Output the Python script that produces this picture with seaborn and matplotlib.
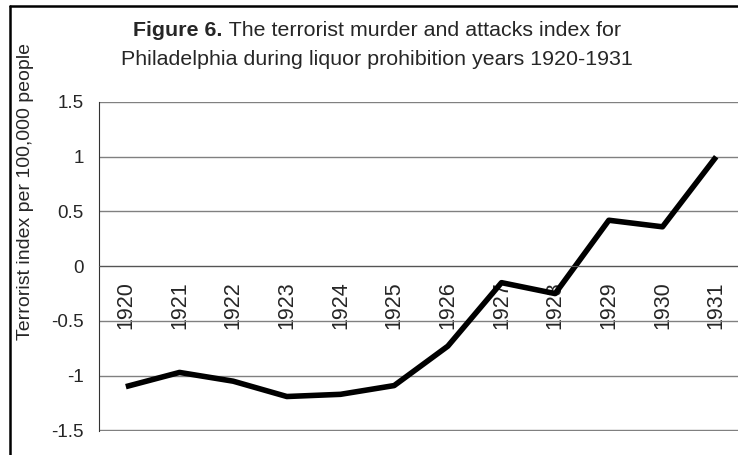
import matplotlib
matplotlib.use("Agg")
import matplotlib.pyplot as plt
from matplotlib.lines import Line2D
import seaborn as sns
import pandas as pd

years = [1920, 1921, 1922, 1923, 1924, 1925, 1926, 1927, 1928, 1929, 1930, 1931]
index_values = [-1.10, -0.97, -1.05, -1.19, -1.17, -1.09, -0.73, -0.15, -0.25, 0.42, 0.36, 1.00]
y_ticks = [-1.5, -1.0, -0.5, 0.0, 0.5, 1.0, 1.5]
y_tick_labels = ["-1.5", "-1", "-0.5", "0", "0.5", "1", "1.5"]

df = pd.DataFrame({"year": years, "index": index_values})

sns.set_style("white")
plt.rcParams["font.family"] = ["Liberation Sans", "DejaVu Sans"]

fig = plt.figure(figsize=(7.38, 4.55), dpi=100)
W, H = 738, 455
ax = fig.add_axes([99 / W, (H - 431) / H, 644 / W, 329 / H])

sns.lineplot(data=df, x="year", y="index", color="black", linewidth=4.0, ax=ax,
             solid_joinstyle="round", solid_capstyle="butt")

ax.set_xlim(years[0] - 0.5, years[-1] + 0.5)
ax.set_ylim(-1.505, 1.5)
ax.set_yticks(y_ticks)
ax.set_yticklabels(y_tick_labels, fontsize=13.5)
ax.grid(axis="y", color="#808080", linewidth=1.0)
ax.set_axisbelow(True)

# x axis sits at zero, ticks between categories
ax.spines["bottom"].set_position(("data", 0))
ax.spines["bottom"].set_color("#555555")
ax.spines["left"].set_color("#333333")
ax.spines["top"].set_visible(False)
ax.spines["right"].set_visible(False)
ax.set_xticks(years)
ax.set_xticklabels([str(y) for y in years], rotation=90, fontsize=15.5)
ax.set_xticks([y + 0.5 for y in years[:-1]], minor=True)
ax.tick_params(axis="x", which="major", length=0, pad=11)
ax.tick_params(axis="x", which="minor", length=6, direction="out", color="#333333")
ax.tick_params(axis="y", length=5, direction="out", color="#333333", pad=6)
ax.set_xlabel("")
ax.set_ylabel("")

fig.text(26 / W, 1 - 192 / H, "Terrorist index per 100,000 people", rotation=90,
         ha="center", va="center", fontsize=14)

# title: bold "Figure 6." followed by normal text, centred as one line
title_size = 15.4
cx = 377 / W
t1 = fig.text(0, 1 - 36 / H, "Figure 6.", fontsize=title_size, fontweight="bold",
              ha="left", va="baseline")
t2 = fig.text(0, 1 - 36 / H, " The terrorist murder and attacks index for",
              fontsize=title_size, ha="left", va="baseline")
fig.canvas.draw()
r = fig.canvas.get_renderer()
w1 = t1.get_window_extent(r).width / W
w2 = t2.get_window_extent(r).width / W
x0 = cx - (w1 + w2) / 2
t1.set_x(x0)
t2.set_x(x0 + w1)
fig.text(cx, 1 - 65 / H, "Philadelphia during liquor prohibition years 1920-1931",
         fontsize=title_size, ha="center", va="baseline")

# outer frame of the original chart (only left and top edges are visible)
fx, fy = 10 / W, 1 - 6 / H
fig.add_artist(Line2D([fx, fx], [0, fy], transform=fig.transFigure, color="black", linewidth=1.8))
fig.add_artist(Line2D([fx, 1], [fy, fy], transform=fig.transFigure, color="black", linewidth=1.8))

fig.savefig("out.png", dpi=100)
